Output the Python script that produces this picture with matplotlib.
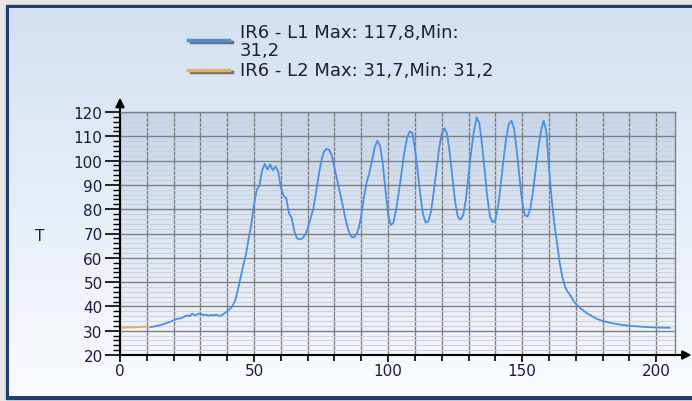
import matplotlib
matplotlib.use("Agg")
import numpy as np
import matplotlib.pyplot as plt
from matplotlib.patches import Rectangle
from matplotlib.lines import Line2D

# ── data ──────────────────────────────────────────────────────────────────────
l2_t = [1, 3, 5, 7, 9, 11]
l2_v = [31.2, 31.4, 31.3, 31.5, 31.7, 31.5]

l1_t = [11, 13, 15, 17, 19, 21, 23, 25, 26, 27, 28, 29, 30, 31, 32, 33, 34, 35,
        36, 37, 38, 39, 40, 41, 42, 43, 44, 45, 46, 47, 48, 49, 50, 51, 52, 53,
        54, 55, 56, 57, 58, 59, 60, 61, 62, 63, 64, 65, 66, 67, 68, 69, 70, 71,
        72, 73, 74, 75, 76, 77, 78, 79, 80, 81, 82, 83, 84, 85, 86, 87, 88, 89,
        90, 91, 92, 93, 94, 95, 96, 97, 98, 99, 100, 101, 102, 103, 104, 105,
        106, 107, 108, 109, 110, 111, 112, 113, 114, 115, 116, 117, 118, 119,
        120, 121, 122, 123, 124, 125, 126, 127, 128, 129, 130, 131, 132, 133,
        134, 135, 136, 137, 138, 139, 140, 141, 142, 143, 144, 145, 146, 147,
        148, 149, 150, 151, 152, 153, 154, 155, 156, 157, 158, 159, 160, 161,
        162, 163, 164, 165, 166, 167, 168, 169, 170, 172, 174, 176, 178, 180,
        183, 186, 190, 195, 200, 205]
l1_v = [31.4, 31.8, 32.3, 33.0, 33.8, 34.8, 35.2, 36.3, 36.0, 37.0, 36.3, 36.8,
        37.2, 36.4, 36.6, 36.2, 36.5, 36.3, 36.6, 36.1, 36.4, 37.2, 38.0, 39.0,
        40.2, 42.5, 47.0, 52.0, 57.0, 61.5, 68.0, 74.0, 82.0, 88.0, 89.7, 96.0,
        98.6, 96.3, 98.4, 96.0, 97.6, 95.5, 89.0, 85.5, 84.5, 78.5, 76.5, 71.0,
        68.0, 67.6, 68.0, 69.4, 72.0, 76.0, 79.8, 86.0, 93.0, 99.5, 103.5, 104.8,
        104.5, 102.0, 97.0, 92.0, 87.0, 82.0, 76.5, 72.0, 69.0, 68.4, 69.2, 72.0,
        77.5, 85.0, 91.0, 95.0, 100.0, 105.5, 108.2, 106.0, 99.0, 88.0, 78.0,
        73.5, 74.5, 80.0, 87.0, 95.0, 103.0, 109.0, 112.0, 111.5, 105.0, 96.0,
        86.0, 78.0, 74.5, 75.0, 79.0, 87.0, 96.0, 105.0, 111.0, 113.3, 111.0,
        103.0, 93.0, 83.0, 77.0, 75.7, 77.5, 84.0, 94.0, 104.0, 112.0, 117.8,
        115.5, 107.0, 96.0, 85.0, 77.0, 74.6, 75.5, 81.0, 90.0, 100.0, 109.0,
        115.0, 116.4, 113.0, 104.0, 93.0, 83.0, 77.5, 77.0, 80.0, 87.0, 96.0,
        105.0, 112.0, 116.5, 112.0, 97.0, 84.0, 74.0, 66.0, 58.0, 52.0, 48.0,
        46.0, 44.5, 42.5, 41.0, 39.0, 37.3, 36.0, 34.8, 34.0, 33.2, 32.6, 32.0,
        31.6, 31.3, 31.2]

# legend text, wrapped the way the reference wraps it
l1_label = ["IR6 - L1 Max: 117,8,Min:", "31,2"]
l2_label = ["IR6 - L2 Max: 31,7,Min: 31,2"]

W, H = 692, 402
TXT = "#1c1c3c"

fig = plt.figure(figsize=(W / 100, H / 100), dpi=100)

# ── background: gray margin, navy frame, light gradient panel ────────────────
bg = fig.add_axes([0, 0, 1, 1], zorder=0)
bg.axis("off")
bg.add_patch(Rectangle((0, 0), W, H, color="#e8e8e8"))
bg.add_patch(Rectangle((6, 6), W, 394, color="#1f3f70"))
panel = np.linspace(0, 1, 256).reshape(-1, 1)
panel_cmap = matplotlib.colors.LinearSegmentedColormap.from_list(
    "panel", ["#d4e0f0", "#f9fbfe"])
bg.imshow(panel, cmap=panel_cmap, aspect="auto", extent=[9, W, 397, 9], zorder=1)
plot_cmap = matplotlib.colors.LinearSegmentedColormap.from_list(
    "plot", ["#c6d6ec", "#f4f6fa"])
bg.imshow(panel, cmap=plot_cmap, aspect="auto", extent=[120, 675, 356, 113], zorder=2)
bg.set_xlim(0, W)
bg.set_ylim(H, 0)

# ── chart ─────────────────────────────────────────────────────────────────────
ax = fig.add_axes([120 / W, 1 - 356 / H, 555 / W, 243 / H], zorder=1)
ax.patch.set_visible(False)
ax.plot(l1_t, l1_v, color="#4a8fe4", lw=1.3, zorder=3)
ax.plot(l2_t, l2_v, color="#e8a84a", lw=1.3, zorder=3)
ax.set_xlim(0, 207)
ax.set_ylim(20, 120)

ax.set_xticks(range(0, 201, 50))
ax.set_xticks(range(0, 207, 10), minor=True)
ax.set_yticks(range(20, 121, 10))
ax.set_yticks(range(20, 121, 2), minor=True)

ax.grid(which="major", color="#7d7f84", lw=1.0, zorder=1)
ax.grid(which="minor", axis="x", color="#7d7f84", lw=1.0, zorder=1)
ax.grid(which="minor", axis="y", color="#cdd1d9", lw=0.8, zorder=0)
ax.set_axisbelow(True)

ax.tick_params(axis="y", which="major", length=10.5, width=1.2, color="black",
               labelsize=11, labelcolor=TXT, pad=2)
ax.tick_params(axis="y", which="minor", length=5, width=1.0, color="black")
ax.tick_params(axis="x", which="major", length=5, width=1.2, color="black",
               labelsize=11, labelcolor=TXT, pad=1)
ax.tick_params(axis="x", which="minor", length=4, width=1.2, color="black")

for side in ("left", "bottom"):
    ax.spines[side].set_color("black")
    ax.spines[side].set_linewidth(1.5)
for side in ("top", "right"):
    ax.spines[side].set_color("#7d7f84")
    ax.spines[side].set_linewidth(1.0)

# axis arrows
arrow = dict(arrowstyle="-|>", color="black", lw=1.5, mutation_scale=13)
ax.annotate("", xy=(0, 1.07), xytext=(0, 0.99), xycoords="axes fraction",
            arrowprops=arrow, annotation_clip=False)
ax.annotate("", xy=(1.035, 0), xytext=(0.99, 0), xycoords="axes fraction",
            arrowprops=arrow, annotation_clip=False)

fig.text(40 / W, 1 - 237 / H, "T", fontsize=11, color=TXT,
         ha="center", va="center")

# ── legend drawn by hand (line over gray shadow) ─────────────────────────────
def fy(py):
    return 1 - py / H

def legend_entry(y_line, baselines, color, lines):
    fig.add_artist(Line2D([191 / W, 232 / W], [fy(y_line + 2.5)] * 2,
                          color="#6b7078", lw=2.5))
    fig.add_artist(Line2D([188 / W, 229 / W], [fy(y_line)] * 2, color=color, lw=2.5))
    for base, line in zip(baselines, lines):
        fig.text(240 / W, fy(base), line, fontsize=13, color="#202030",
                 ha="left", va="baseline")

legend_entry(40.5, [38.5, 55.5], "#4a8fe4", l1_label)
legend_entry(70.5, [76.0], "#f0b04a", l2_label)

fig.savefig("out.png", dpi=100)
